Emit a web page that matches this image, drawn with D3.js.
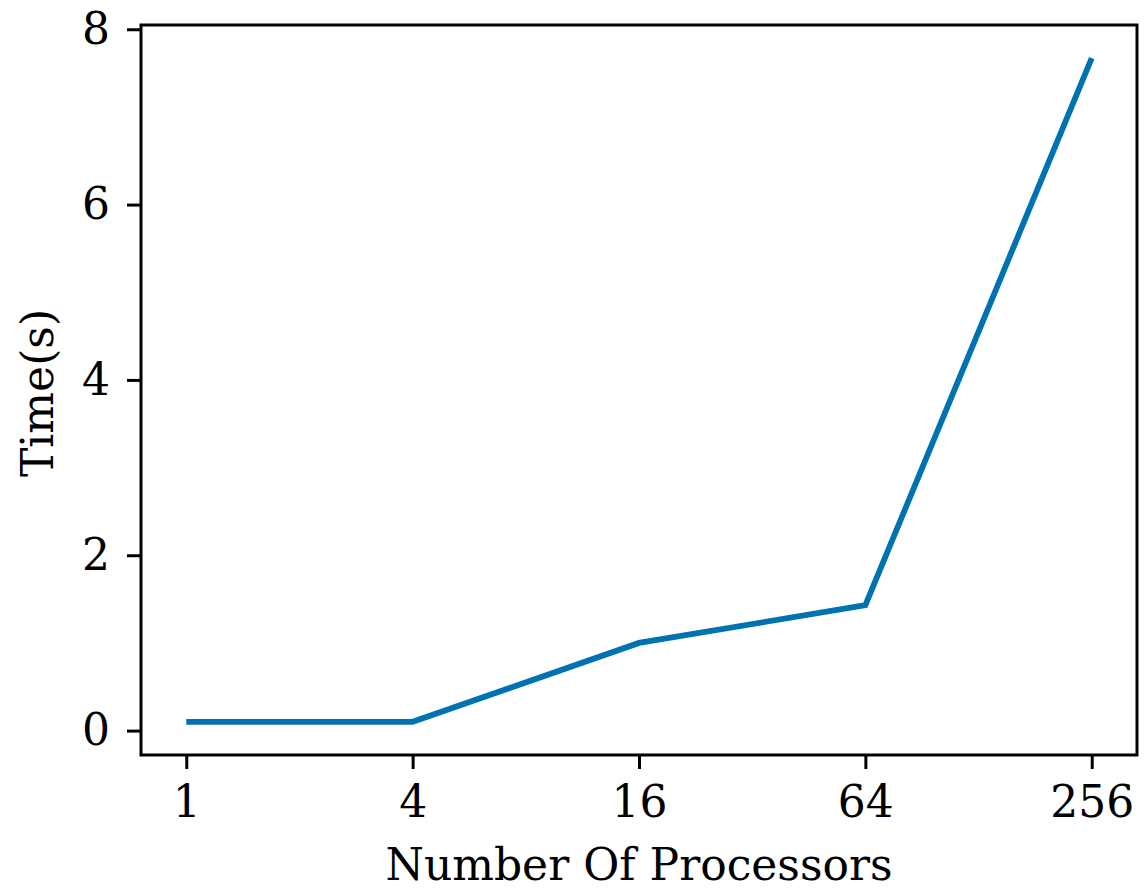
<!DOCTYPE html>
<html>
<head>
<meta charset="utf-8">
<script src="https://cdn.jsdelivr.net/npm/d3@7"></script>
<style>
  html, body { margin: 0; padding: 0; background: #fff; }
  svg text { font-family: "DejaVu Serif", serif; fill: #000; }
</style>
</head>
<body>
<div id="chart"></div>
<script>
// ── Data ──────────────────────────────────────────────
const processors = [1, 4, 16, 64, 256];
const times      = [0.1, 0.1, 1.0, 1.43, 7.67];
const yTicks     = [0, 2, 4, 6, 8];
const xLabel     = "Number Of Processors";
const yLabel     = "Time(s)";

// ── Layout ────────────────────────────────────────────
const W = 1145, H = 890;
const box = { left: 141, right: 1137, top: 25, bottom: 755 };
const fontSize = 44;
const lineColor = "#0072b2";

const svg = d3.select("#chart").append("svg")
  .attr("width", W)
  .attr("height", H);

// matplotlib-style 5% margins on both axes
const lx = processors.map(d => Math.log2(d));
const lxPad = (d3.max(lx) - d3.min(lx)) * 0.05;
const x = d3.scaleLog().base(2)
  .domain([Math.pow(2, d3.min(lx) - lxPad), Math.pow(2, d3.max(lx) + lxPad)])
  .range([box.left, box.right]);

const yPad = (d3.max(times) - d3.min(times)) * 0.05;
const y = d3.scaleLinear()
  .domain([d3.min(times) - yPad, d3.max(times) + yPad])
  .range([box.bottom, box.top]);

// ── Line ──────────────────────────────────────────────
const line = d3.line()
  .x((d, i) => x(processors[i]))
  .y(d => y(d));

svg.append("path")
  .datum(times)
  .attr("fill", "none")
  .attr("stroke", lineColor)
  .attr("stroke-width", 5.8)
  .attr("stroke-linejoin", "miter")
  .attr("d", line);

// ── Axes ──────────────────────────────────────────────
const xAxis = svg.append("g")
  .attr("transform", `translate(0,${box.bottom})`)
  .call(d3.axisBottom(x)
    .tickValues(processors)
    .tickFormat(d3.format("d"))
    .tickSize(14)
    .tickSizeOuter(0)
    .tickPadding(17));

const yAxis = svg.append("g")
  .attr("transform", `translate(${box.left},0)`)
  .call(d3.axisLeft(y)
    .tickValues(yTicks)
    .tickFormat(d3.format("d"))
    .tickSize(14)
    .tickSizeOuter(0)
    .tickPadding(17));

[xAxis, yAxis].forEach(g => {
  g.select(".domain").remove();
  g.selectAll(".tick line").attr("stroke", "#000").attr("stroke-width", 3);
  g.selectAll(".tick text")
    .attr("font-size", fontSize)
    .attr("font-family", "DejaVu Serif, serif")
    .attr("fill", "#000");
});

// frame (all four spines)
svg.append("rect")
  .attr("x", box.left)
  .attr("y", box.top)
  .attr("width", box.right - box.left)
  .attr("height", box.bottom - box.top)
  .attr("fill", "none")
  .attr("stroke", "#000")
  .attr("stroke-width", 3);

// ── Axis labels ───────────────────────────────────────
svg.append("text")
  .attr("x", (box.left + box.right) / 2)
  .attr("y", 880)
  .attr("text-anchor", "middle")
  .attr("font-size", fontSize)
  .text(xLabel);

svg.append("text")
  .attr("transform", `translate(53,${(box.top + box.bottom) / 2 + 3}) rotate(-90)`)
  .attr("text-anchor", "middle")
  .attr("font-size", fontSize)
  .text(yLabel);
</script>
</body>
</html>
